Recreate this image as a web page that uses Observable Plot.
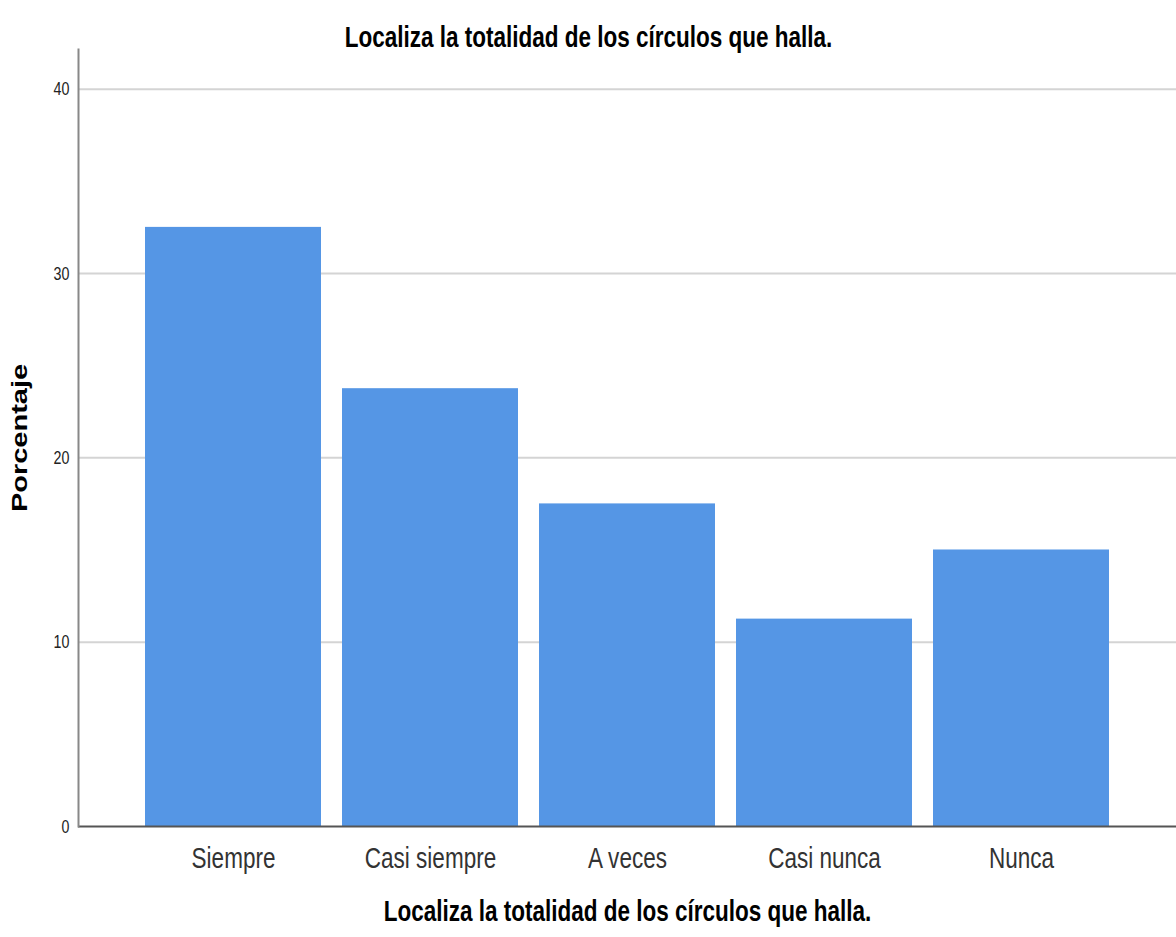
<!DOCTYPE html>
<html>
<head>
<meta charset="utf-8">
<script src="https://cdn.jsdelivr.net/npm/d3@7"></script>
<script src="https://cdn.jsdelivr.net/npm/@observablehq/plot@0.6"></script>
<style>
  html, body { margin: 0; padding: 0; background: #fff; }
  #chart svg { display: block; }
</style>
</head>
<body>
<div id="chart"></div>
<script>
const categories = ["Siempre", "Casi siempre", "A veces", "Casi nunca", "Nunca"];
const percentages = [32.5, 23.75, 17.5, 11.25, 15.0];
const yTicks = [0, 10, 20, 30, 40];
const gridTicks = [10, 20, 30, 40];
const titleText = "Localiza la totalidad de los círculos que halla.";
const xTitleText = "Localiza la totalidad de los círculos que halla.";
const yTitleText = "Porcentaje";

const data = categories.map((c, i) => ({category: c, value: percentages[i]}));
const font = "'Liberation Sans', Arial, sans-serif";
const squeeze = 0.75; // horizontal compression of the original rendering

const chart = Plot.plot({
  width: 1176,
  height: 937,
  marginTop: 49,
  marginBottom: 111,
  marginLeft: 78,
  marginRight: 0,
  style: {fontFamily: font, background: "#fff"},
  x: {domain: categories, paddingInner: 0.1075, paddingOuter: 0.33, label: null},
  y: {domain: [0, 42.15], label: null},
  marks: [
    Plot.gridY(gridTicks, {stroke: "#d4d4d4", strokeOpacity: 1, strokeWidth: 2}),
    Plot.barY(data, {x: "category", y: "value", fill: "#5596e5"}),
    Plot.ruleY([0], {stroke: "#555", strokeWidth: 2}),
    Plot.frame({anchor: "left", stroke: "#888", strokeWidth: 2}),
    Plot.axisY(yTicks, {tickSize: 0, tickPadding: 9, fontSize: 19, fill: "#222", label: null, className: "sq"}),
    Plot.axisX({tickSize: 0, tickPadding: 20, fontSize: 30, fill: "#333", label: null, className: "sq"}),
    Plot.text([titleText], {frameAnchor: "top-left", dx: 510, dy: -24, text: d => d, fontSize: 30, fontWeight: "bold", fill: "#000", textAnchor: "middle", className: "sq"}),
    Plot.text([xTitleText], {frameAnchor: "bottom", dy: 94, text: d => d, fontSize: 30, fontWeight: "bold", fill: "#000", textAnchor: "middle", className: "sq"}),
    Plot.text([yTitleText], {frameAnchor: "left", dx: -58, text: d => d, rotate: -90, fontSize: 29, fontWeight: "bold", fill: "#000", textAnchor: "middle", className: "ytitle"})
  ]
});
document.getElementById("chart").appendChild(chart);

// emulate the horizontally squeezed look of the original
d3.select(chart).selectAll(".sq text").each(function() {
  const len = this.getComputedTextLength();
  this.setAttribute("textLength", (len * squeeze).toFixed(1));
  this.setAttribute("lengthAdjust", "spacingAndGlyphs");
});
d3.select(chart).selectAll(".ytitle text").each(function() {
  const t = this.getAttribute("transform") || "";
  this.setAttribute("transform", t + " scale(1," + squeeze + ")");
});
</script>
</body>
</html>
